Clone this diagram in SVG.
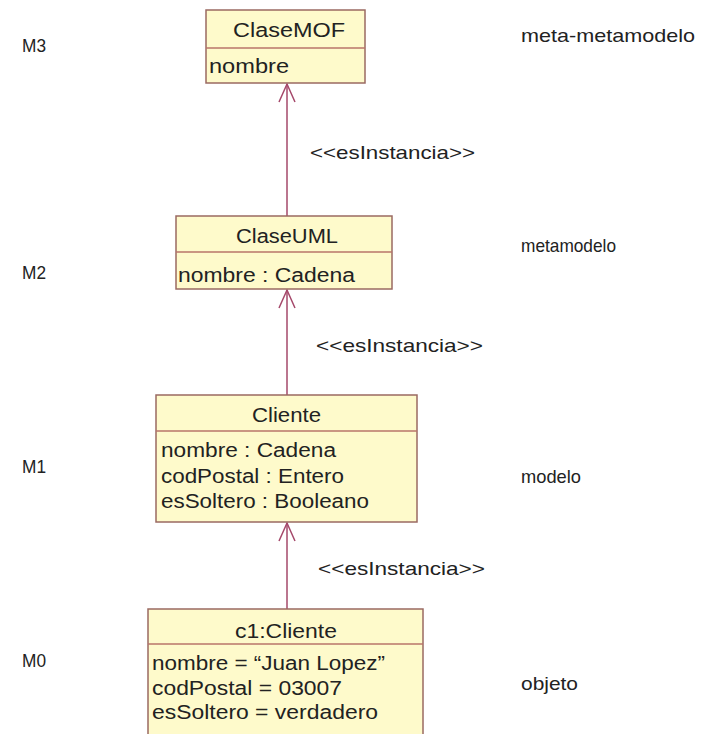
<svg xmlns="http://www.w3.org/2000/svg" width="705" height="734" viewBox="0 0 705 734">
  <defs>
    <style>
      .box { fill: #fefacb; stroke: #9a6a62; stroke-width: 1.5; }
      .div { stroke: #b8746a; stroke-width: 1.5; }
      .t { font-family: "Liberation Sans", Arial, sans-serif; font-size: 20px; fill: #222; }
      .lbl { font-family: "Liberation Sans", Arial, sans-serif; font-size: 19px; fill: #222; }
      .conn { stroke: #a5486a; stroke-width: 1.5; fill: none; }
    </style>
  </defs>
  <rect width="705" height="734" fill="#ffffff"/>

  <!-- level labels -->
  <g id="levels">
    <text class="lbl" x="22" y="52" textLength="24" lengthAdjust="spacingAndGlyphs">M3</text>
    <text class="lbl" x="22" y="279" textLength="24" lengthAdjust="spacingAndGlyphs">M2</text>
    <text class="lbl" x="22" y="473" textLength="24" lengthAdjust="spacingAndGlyphs">M1</text>
    <text class="lbl" x="22" y="667" textLength="24" lengthAdjust="spacingAndGlyphs">M0</text>
    <text class="lbl" x="521" y="42" textLength="174" lengthAdjust="spacingAndGlyphs">meta-metamodelo</text>
    <text class="lbl" x="521" y="252" textLength="95" lengthAdjust="spacingAndGlyphs">metamodelo</text>
    <text class="lbl" x="521" y="483" textLength="60" lengthAdjust="spacingAndGlyphs">modelo</text>
    <text class="lbl" x="521" y="690" textLength="57" lengthAdjust="spacingAndGlyphs">objeto</text>
  </g>

  <!-- instance-of connectors -->
  <g id="connectors">
    <line class="conn" x1="287" y1="216" x2="287" y2="84"/>
    <polyline class="conn" points="279,102 287,84 295,102"/>
    <line class="conn" x1="287" y1="395" x2="287" y2="290"/>
    <polyline class="conn" points="279,308 287,290 295,308"/>
    <line class="conn" x1="287" y1="609" x2="287" y2="523"/>
    <polyline class="conn" points="279,541 287,523 295,541"/>
    <text class="lbl" x="310" y="159" textLength="165" lengthAdjust="spacingAndGlyphs">&lt;&lt;esInstancia&gt;&gt;</text>
    <text class="lbl" x="316" y="352" textLength="167" lengthAdjust="spacingAndGlyphs">&lt;&lt;esInstancia&gt;&gt;</text>
    <text class="lbl" x="318" y="575" textLength="167" lengthAdjust="spacingAndGlyphs">&lt;&lt;esInstancia&gt;&gt;</text>
  </g>

  <!-- M3: ClaseMOF -->
  <g id="claseMOF">
    <rect class="box" x="206" y="10" width="159" height="73"/>
    <line class="div" x1="206" y1="48" x2="365" y2="48"/>
    <text class="t" x="233" y="37" textLength="112" lengthAdjust="spacingAndGlyphs">ClaseMOF</text>
    <text class="t" x="209" y="73" textLength="80" lengthAdjust="spacingAndGlyphs">nombre</text>
  </g>

  <!-- M2: ClaseUML -->
  <g id="claseUML">
    <rect class="box" x="176" y="216" width="216" height="73"/>
    <line class="div" x1="176" y1="252" x2="392" y2="252"/>
    <text class="t" x="236" y="243" textLength="102" lengthAdjust="spacingAndGlyphs">ClaseUML</text>
    <text class="t" x="178" y="282" textLength="177" lengthAdjust="spacingAndGlyphs">nombre : Cadena</text>
  </g>

  <!-- M1: Cliente -->
  <g id="cliente">
    <rect class="box" x="156" y="395" width="261" height="127"/>
    <line class="div" x1="156" y1="431" x2="417" y2="431"/>
    <text class="t" x="252" y="422" textLength="69" lengthAdjust="spacingAndGlyphs">Cliente</text>
    <text class="t" x="161" y="457" textLength="175" lengthAdjust="spacingAndGlyphs">nombre : Cadena</text>
    <text class="t" x="161" y="483" textLength="183" lengthAdjust="spacingAndGlyphs">codPostal : Entero</text>
    <text class="t" x="161" y="508" textLength="208" lengthAdjust="spacingAndGlyphs">esSoltero : Booleano</text>
  </g>

  <!-- M0: c1:Cliente -->
  <g id="c1Cliente">
    <rect class="box" x="148" y="609" width="275" height="140"/>
    <line class="div" x1="148" y1="644" x2="423" y2="644"/>
    <text class="t" x="235" y="638" textLength="102" lengthAdjust="spacingAndGlyphs">c1:Cliente</text>
    <text class="t" x="152" y="670" textLength="233" lengthAdjust="spacingAndGlyphs">nombre = “Juan Lopez”</text>
    <text class="t" x="152" y="695" textLength="190" lengthAdjust="spacingAndGlyphs">codPostal = 03007</text>
    <text class="t" x="152" y="719" textLength="226" lengthAdjust="spacingAndGlyphs">esSoltero = verdadero</text>
  </g>
</svg>
